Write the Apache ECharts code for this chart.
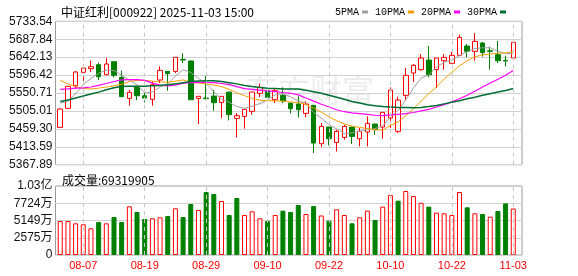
<!DOCTYPE html>
<html><head><meta charset="utf-8">
<script src="https://cdn.jsdelivr.net/npm/echarts@6/dist/echarts.min.js"></script>
<style>html,body{margin:0;padding:0;background:#fff}#c{width:578px;height:276px}</style>
</head><body><div id="c"></div>
<script>
const dates = ['08-04','08-05','08-06','08-07','08-08','08-11','08-12','08-13','08-14','08-15','08-18','08-19','08-20','08-21','08-22','08-25','08-26','08-27','08-28','08-29',
'09-01','09-02','09-03','09-04','09-05','09-08','09-09','09-10','09-11','09-12','09-15','09-16','09-17','09-18','09-19','09-22','09-23','09-24','09-25','09-26','09-29','09-30',
'10-09','10-10','10-13','10-14','10-15','10-16','10-17','10-20','10-21','10-22','10-23','10-24','10-27','10-28','10-29','10-30','10-31','11-03'];
const openP = [5463.1,5511.5,5569.3,5603.4,5612.7,5622.9,5597.4,5630.6,5590.6,5537.0,5567.6,5543.8,5534.5,5583.8,5605.9,5605.9,5636.5,5632.3,5537.0,5537.9,
5542.9,5526.8,5553.2,5486.0,5491.1,5503.9,5549.8,5556.6,5533.6,5544.7,5525.1,5522.6,5498.8,5519.2,5421.4,5463.9,5424.8,5437.6,5463.9,5434.1,5451.2,5471.6,
5463.9,5486.9,5452.9,5544.7,5601.7,5610.2,5634.8,5610.2,5633.1,5626.3,5646.7,5670.5,5656.9,5678.2,5658.6,5648.4,5634.0,5639.9];
const closeP = [5509.8,5567.6,5604.2,5614.4,5617.8,5592.3,5624.6,5595.7,5541.3,5552.3,5543.8,5537.9,5571.9,5608.5,5600.0,5641.6,5634.8,5533.6,5542.2,5536.2,
5526.0,5542.2,5495.4,5492.8,5509.0,5553.2,5565.1,5539.6,5556.6,5531.1,5510.7,5508.1,5522.6,5423.1,5465.6,5434.1,5452.9,5465.6,5440.1,5452.9,5473.3,5457.1,
5501.3,5558.3,5532.8,5595.7,5621.2,5639.9,5597.4,5639.9,5641.6,5646.7,5692.6,5656.9,5682.4,5653.5,5657.0,5633.1,5632.5,5679.9];
const lowP = [5462.2,5510.7,5560.8,5576.1,5604.2,5583.8,5595.7,5590.6,5540.4,5518.3,5532.8,5526.8,5518.3,5576.1,5556.6,5601.7,5627.2,5533.6,5471.6,5534.5,
5505.6,5486.9,5480.9,5437.6,5459.7,5495.4,5540.4,5534.5,5525.1,5525.1,5498.8,5488.6,5488.6,5397.6,5412.9,5417.1,5401.8,5431.6,5420.6,5414.6,5414.6,5444.4,
5434.1,5461.4,5448.6,5533.6,5578.7,5607.6,5590.6,5563.4,5610.2,5626.3,5646.7,5641.6,5633.1,5643.3,5610.2,5627.2,5618.7,5639.9];
const highP = [5512.4,5569.0,5606.8,5622.9,5633.1,5628.0,5639.9,5630.6,5607.6,5558.3,5567.6,5553.2,5580.4,5618.7,5605.9,5641.6,5651.8,5634.0,5542.2,5594.0,
5558.3,5542.2,5553.2,5499.6,5509.0,5553.2,5575.3,5560.8,5560.8,5565.1,5525.1,5542.2,5529.4,5519.2,5474.1,5463.9,5457.1,5469.9,5463.9,5461.4,5491.1,5471.6,
5501.3,5565.1,5541.3,5614.4,5624.6,5650.1,5670.5,5639.9,5650.1,5655.2,5699.5,5675.6,5703.7,5680.7,5668.8,5683.3,5645.9,5684.1];
const ma5 = [5525,5529,5549,5572,5588,5601,5609,5608,5596,5583,5572,5551,5553,5566,5574,5594,5610,5603,5588,5575,
5554,5535,5527,5516,5512,5517,5524,5533,5546,5549,5541,5530,5524,5501,5487,5470,5459,5447,5449,5453,5457,5460,
5467,5490,5506,5533,5563,5589,5597,5617,5629,5635,5646,5656,5664,5666,5666,5657,5651,5652];
const ma10 = [5583,5574,5567,5562,5561,5563,5566,5569,5573,5580,5583,5583,5581,5579,5578,5581,5584,5578,5576,5574,
5571,5567,5560,5551,5544,5537,5532,5531,5531,5530,5528,5526,5522,5512,5502,5490,5480,5472,5466,5463,5460,5457,
5456,5468,5477,5493,5510,5530,5549,5566,5586,5604,5620,5633,5643,5648,5650,5652,5653,5656];
const ma20 = [5560,5561,5563,5564,5566,5570,5575,5580,5584,5585,5585,5583,5576,5571,5569,5571,5576,5577,5578,5578,
5577,5575,5572,5567,5562,5560,5558,5556,5554,5552,5550,5546,5538,5530,5522,5515,5508,5503,5500,5498,5496,5494,
5493,5495,5496,5498,5501,5505,5509,5515,5521,5528,5536,5545,5555,5566,5576,5586,5596,5608];
const ma30 = [5529,5533,5538,5543,5548,5553,5559,5564,5567,5568,5568,5568,5569,5570,5572,5574,5577,5580,5581,5582,
5582,5580,5577,5574,5570,5567,5565,5563,5562,5561,5561,5561,5558,5554,5550,5545,5540,5535,5529,5525,5521,5518,
5516,5515,5514,5514,5513,5514,5516,5519,5523,5527,5531,5536,5540,5545,5549,5553,5557,5562];
// volume in 万
const volume = [5076,5076,4727,4578,3982,4927,4727,5673,4927,7266,6420,5375,5474,5624,5823,6967,5673,7614,6719,9406,
9108,8062,5972,8510,5972,6520,5474,5076,5972,6619,6420,7465,6121,7300,5900,5126,6818,5972,4728,5624,6619,5225,
7216,8958,8107,9555,8800,7800,7216,6320,6220,5973,9400,7117,6220,6121,5723,6569,7700,6931.9905];
const priceTicks = ['5367.89','5413.59','5459.30','5505.01','5550.71','5596.42','5642.13','5687.84','5733.54'];
const volTicks = ['0','2575万','5149万','7724万','1.03亿'];
const markDates = ['08-07','08-19','08-29','09-10','09-22','10-10','10-22','11-03'];
const maNames = ['5PMA','10PMA','20PMA','30PMA'];
const titleText = '中证红利[000922] 2025-11-03 15:00';
const volLabel = '成交量:69319905';
const watermark = '东方财富';
const priceMin = 5367.89, priceMax = 5733.54, volMax = 10299;

const RED = '#ff0000', GREEN = '#008000';
const candles = dates.map((d, i) => [openP[i], closeP[i], lowP[i], highP[i]]);
const volData = volume.map((v, i) => {
  const up = i === 0 || closeP[i] >= closeP[i - 1];
  return { value: v, itemStyle: up ? { color: '#fff', borderColor: RED, borderWidth: 1 } : { color: GREEN, borderColor: GREEN, borderWidth: 1 } };
});
const maColors = ['#a0a0a0', '#f5a000', '#ff00ff', '#006e32'];
const maData = [ma5, ma10, ma20, ma30];
const maWidths = [1, 1, 1.2, 1.5];

const markLineCfg = {
  silent: true, symbol: ['none', 'none'], animation: false,
  label: { show: false },
  lineStyle: { type: [4, 4], color: '#c8c8c8', width: 1 },
  data: markDates.map(d => ({ xAxis: d }))
};

const chart = echarts.init(document.getElementById('c'), null, { renderer: 'canvas' });
const labelFont = { fontFamily: 'Liberation Sans, Noto Sans CJK SC', fontSize: 12, color: '#111' };
chart.setOption({
  animation: false,
  backgroundColor: '#fff',
  title: [
    { text: titleText, left: 56, top: 1, textStyle: { fontSize: 12, fontWeight: 'normal', color: '#000', fontFamily: 'Noto Sans CJK SC' } },
    { text: volLabel, left: 57, top: 169, textStyle: { fontSize: 12, fontWeight: 'normal', color: '#000', fontFamily: 'Noto Sans CJK SC' } }
  ],
  legend: {
    data: maNames, right: 67, top: 2, align: 'right', icon: 'rect', itemWidth: 6, itemHeight: 3, itemGap: 7,
    selectedMode: false,
    textStyle: { fontFamily: 'Liberation Mono', fontSize: 10, color: '#000', padding: [0, -2, 0, 0] }
  },
  graphic: [{
    type: 'text', left: 246, top: 74, z: -1, silent: true,
    style: { text: watermark, font: '32px "Noto Sans CJK SC"', fill: '#ededed' }
  }],
  grid: [
    { left: 56.4, width: 460.7, top: 21.3, height: 143.4, show: false },
    { left: 55.5, width: 466.5, top: 21.3, height: 143.4, show: true, borderColor: '#9a9a9a', borderWidth: 1, backgroundColor: 'transparent' },
    { left: 56.4, width: 460.7, top: 186, height: 69, show: false },
    { left: 55.5, width: 466.5, top: 186, height: 69, show: true, borderColor: '#9a9a9a', borderWidth: 1, backgroundColor: 'transparent' }
  ],
  xAxis: [
    { type: 'category', gridIndex: 0, data: dates, boundaryGap: true, axisLine: { show: false }, axisTick: { show: false }, axisLabel: { show: false }, splitLine: { show: false } },
    { type: 'value', gridIndex: 1, min: 0, max: 1, show: false },
    { type: 'category', gridIndex: 2, data: dates, boundaryGap: true, axisLine: { show: false }, axisTick: { show: false }, splitLine: { show: false },
      axisLabel: { interval: (idx) => markDates.indexOf(dates[idx]) >= 0, color: RED, fontSize: 11, fontFamily: 'Liberation Sans', margin: 5 } },
    { type: 'value', gridIndex: 3, min: 0, max: 1, show: false }
  ],
  yAxis: [
    { type: 'value', gridIndex: 0, min: priceMin, max: priceMax, show: false },
    { type: 'value', gridIndex: 1, min: 0, max: priceTicks.length - 1, interval: 1,
      axisLine: { show: false }, axisTick: { show: false },
      splitLine: { show: true, lineStyle: { color: '#d2d2d2', width: 1 } },
      axisLabel: Object.assign({ margin: 3, formatter: (v) => priceTicks[Math.round(v)] }, labelFont) },
    { type: 'value', gridIndex: 2, min: 0, max: volMax, show: false },
    { type: 'value', gridIndex: 3, min: 0, max: volTicks.length - 1, interval: 1,
      axisLine: { show: false }, axisTick: { show: false },
      splitLine: { show: true, lineStyle: { color: '#d2d2d2', width: 1 } },
      axisLabel: Object.assign({ margin: 3, formatter: (v) => volTicks[Math.round(v)] }, labelFont) }
  ],
  series: [
    { type: 'candlestick', name: 'K', xAxisIndex: 0, yAxisIndex: 0, data: candles, barWidth: 5,
      itemStyle: { color: '#fff', color0: GREEN, borderColor: RED, borderColor0: GREEN, borderWidth: 1 },
      markLine: markLineCfg },
    ...maNames.map((n, k) => ({
      type: 'line', name: n, xAxisIndex: 0, yAxisIndex: 0, data: maData[k], symbol: 'none', smooth: false,
      itemStyle: { color: maColors[k] }, lineStyle: { color: maColors[k], width: maWidths[k] }, z: 3
    })),
    { type: 'bar', name: 'VOL', xAxisIndex: 2, yAxisIndex: 2, data: volData, barWidth: 5, markLine: markLineCfg }
  ]
});
</script></body></html>
